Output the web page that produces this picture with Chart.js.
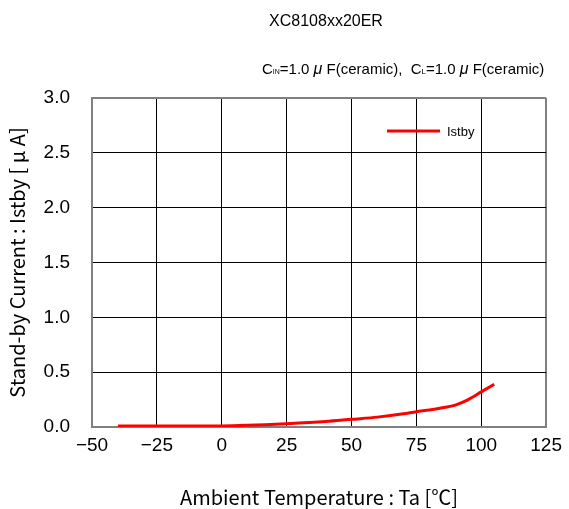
<!DOCTYPE html>
<html>
<head>
<meta charset="utf-8">
<script src="https://cdn.jsdelivr.net/npm/chart.js@4"></script>
<style>
  html, body { margin: 0; padding: 0; background: #fff; }
  #wrap { width: 569px; height: 509px; }
</style>
</head>
<body>
<div id="wrap"><canvas id="chart-istby"></canvas></div>
<script>
// Stand-by current vs ambient temperature
const temps = [-40, -25, 0, 10, 25, 40, 50, 60, 70, 75, 80, 85, 90, 95, 100, 105];
const istby = [0.01, 0.01, 0.01, 0.015, 0.03, 0.05, 0.07, 0.09, 0.12, 0.14, 0.155, 0.175, 0.2, 0.25, 0.32, 0.39];

const chartTitle = 'XC8108xx20ER';
const seriesName = 'Istby';

const FONT = '"Liberation Sans", Arial, sans-serif';
const JFONT = '"Noto Sans CJK JP", "Liberation Sans", sans-serif';

// title, conditions line and legend drawn on top
const annotate = {
    id: 'annotate',
    afterDraw(chart) {
        const ctx = chart.ctx;
        ctx.save();
        ctx.fillStyle = '#000';
        ctx.textBaseline = 'middle';
        ctx.font = '16px ' + FONT;
        ctx.textAlign = 'center';
        ctx.fillText(chartTitle, 326, 22);

        // C_IN=1.0 μF(ceramic), C_L=1.0 μF(ceramic)
        ctx.textAlign = 'left';
        let x = 262;
        const y = 70;
        const parts = [
            ['C', 15, 0], ['IN', 7, 2], ['=1.0 ', 15, 0], ['μ', 16, 0], [' F(ceramic),  C', 15, 0],
            ['L', 8, 2], ['=1.0 ', 15, 0], ['μ', 16, 0], [' F(ceramic)', 15, 0],
        ];
        parts.forEach(([t, s, dy]) => {
            ctx.font = (t === 'μ' ? 'italic ' : '') + s + 'px ' + FONT;
            ctx.fillText(t, x, y + dy);
            x += ctx.measureText(t).width;
        });

        // legend inside plot
        const ds = chart.data.datasets[0];
        ctx.strokeStyle = ds.borderColor;
        ctx.lineWidth = 3;
        ctx.beginPath();
        ctx.moveTo(387, 131);
        ctx.lineTo(440, 131);
        ctx.stroke();
        ctx.font = '13px ' + FONT;
        ctx.fillText(ds.label, 447, 132);
        ctx.restore();
    },
};

const edgeColor = (c) => (c.index === 0 || c.index === c.scale.ticks.length - 1 ? '#808080' : '#000');
const edgeWidth = (c) => (c.index === 0 || c.index === c.scale.ticks.length - 1 ? 2 : 1);

new Chart(document.getElementById('chart-istby'), {
    type: 'line',
    data: {
        datasets: [
            {
                label: seriesName,
                data: temps.map((t, i) => ({ x: t, y: istby[i] })),
                borderColor: '#ff0000',
                borderWidth: 3,
                pointRadius: 0,
                tension: 0.4,
                cubicInterpolationMode: 'monotone',
                fill: false,
            },
        ],
    },
    options: {
        responsive: true,
        maintainAspectRatio: false,
        animation: false,
        layout: { padding: { top: 98, right: 17, bottom: 0, left: 0 } },
        plugins: {
            legend: { display: false },
            tooltip: { enabled: false },
        },
        scales: {
            x: {
                type: 'linear',
                min: -50,
                max: 125,
                afterFit: (axis) => { axis.height = 82; },
                ticks: {
                    stepSize: 25,
                    color: '#000',
                    padding: 7,
                    font: { family: FONT, size: 19 },
                    callback: (v) => (v < 0 ? '\u2212' + Math.abs(v) : v),
                },
                grid: { color: edgeColor, lineWidth: edgeWidth, drawTicks: false },
                border: { color: '#808080', width: 2 },
                title: {
                    display: true,
                    text: 'Ambient Temperature : Ta [\u2103]',
                    color: '#000',
                    font: { family: JFONT, size: 20 },
                    padding: { top: 20, bottom: 0 },
                },
            },
            y: {
                min: 0,
                max: 3,
                afterFit: (axis) => { axis.width = 92; },
                ticks: {
                    stepSize: 0.5,
                    color: '#000',
                    padding: 22,
                    font: { family: FONT, size: 19 },
                    callback: (v) => v.toFixed(1),
                },
                grid: { color: edgeColor, lineWidth: edgeWidth, drawTicks: false },
                border: { color: '#808080', width: 2 },
                title: {
                    display: true,
                    text: 'Stand-by Current : Istby [ \u03bc A]',
                    color: '#000',
                    font: { family: JFONT, size: 20 },
                    padding: { top: 5, bottom: 0 },
                },
            },
        },
    },
    plugins: [annotate],
});
</script>
</body>
</html>
